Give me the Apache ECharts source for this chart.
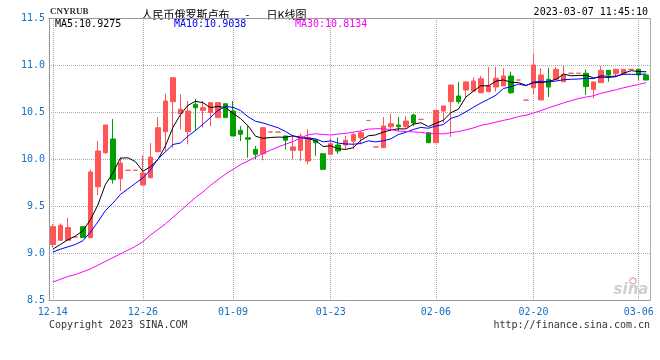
<!DOCTYPE html>
<html><head><meta charset="utf-8">
<script src="https://cdn.jsdelivr.net/npm/echarts@6/dist/echarts.min.js"></script>
<style>html,body{margin:0;padding:0;background:#fff}#c{width:660px;height:360px}</style>
</head><body><div id="c"></div>
<script>
const dates = ['12-14','12-15','12-16','12-17','12-18','12-19','12-20','12-21','12-22','12-23','12-24','12-25','12-26','12-27','12-28','12-29','12-30','12-31',
'01-03','01-04','01-05','01-06','01-07','01-08','01-09',
'01-10','01-11','01-12','01-13','01-14','01-15','01-16','01-17','01-18','01-19','01-20','01-21',
'01-23','01-24','01-25','01-26','01-27','01-28','01-29','01-30','01-31',
'02-01','02-02','02-03','02-04','02-05','02-06',
'02-07','02-08','02-09','02-10','02-11',
'02-13','02-14','02-15','02-16','02-17','02-18','02-19','02-20',
'02-21','02-22','02-23','02-24','02-25','02-26','02-27','02-28',
'03-01','03-02','03-03','03-04','03-05','03-06','03-07'];
const xTickDates = ['12-14','12-26','01-09','01-23','02-06','02-20','03-06'];
const opens = [9.09,9.135,9.135,9.17,9.28,9.163,9.705,10.067,10.213,9.79,
9.88,9.88,9.723,9.8,10.078,10.29,10.61,10.482,10.29,10.582,
10.518,10.493,10.44,10.588,10.51,10.305,10.227,10.103,10.056,10.287,
10.287,10.245,10.092,10.092,9.979,10.2,10.056,10.05,10.149,10.149,
10.19,10.227,10.41,10.128,10.12,10.343,10.362,10.343,10.468,10.422,
10.28,10.173,10.51,10.61,10.67,10.734,10.723,10.705,10.716,10.766,
10.777,10.883,10.84,10.626,10.758,10.628,10.848,10.848,10.822,10.912,
10.912,10.912,10.74,10.812,10.944,10.907,10.907,10.954,10.954,10.894];
const closes = [9.28,9.295,9.27,9.17,9.163,9.862,10.085,10.362,9.78,9.957,
9.88,9.88,9.85,10.02,10.333,10.617,10.865,10.53,10.51,10.546,
10.546,10.6,10.6,10.44,10.245,10.263,10.21,10.05,10.333,10.287,
10.287,10.2,10.128,10.245,10.227,10.173,9.89,10.163,10.085,10.199,
10.262,10.28,10.41,10.128,10.351,10.375,10.343,10.404,10.383,10.422,
10.173,10.518,10.564,10.787,10.61,10.82,10.83,10.854,10.777,10.859,
10.883,10.705,10.84,10.626,11.0,10.894,10.766,10.954,10.9,10.912,
10.912,10.77,10.82,10.944,10.894,10.954,10.954,10.954,10.894,10.84];
const lows = [9.06,9.13,9.13,9.17,9.163,9.16,9.614,10.056,9.737,9.66,
9.88,9.88,9.72,9.8,10.078,10.08,10.12,10.316,10.156,10.298,
10.333,10.35,10.44,10.44,10.245,10.19,10.014,9.997,9.986,10.287,
10.287,10.103,9.997,9.979,9.944,10.032,9.89,10.05,10.056,10.103,
10.103,10.156,10.41,10.128,10.12,10.298,10.298,10.333,10.351,10.422,
10.173,10.173,10.386,10.234,10.588,10.652,10.72,10.7,10.716,10.716,
10.777,10.69,10.84,10.626,10.69,10.628,10.66,10.848,10.82,10.912,
10.912,10.68,10.646,10.81,10.822,10.88,10.9,10.954,10.837,10.84];
const highs = [9.305,9.315,9.375,9.17,9.28,9.886,10.19,10.362,10.426,10.02,
9.88,9.88,10.04,10.17,10.447,10.695,10.865,10.688,10.617,10.641,
10.617,10.6,10.6,10.588,10.617,10.351,10.351,10.138,10.333,10.287,
10.287,10.245,10.245,10.27,10.316,10.21,10.056,10.227,10.227,10.245,
10.28,10.298,10.41,10.128,10.447,10.482,10.447,10.457,10.482,10.422,
10.28,10.518,10.564,10.787,10.82,10.82,10.87,10.883,10.979,10.979,
10.965,10.93,10.84,10.626,11.12,10.965,10.97,10.98,10.99,10.912,
10.912,10.954,10.82,10.99,10.944,10.96,10.954,10.954,10.954,10.894];
const ma5 = [9.04,9.09,9.14,9.18,9.236,9.352,9.51,9.728,9.85,10.009,
10.013,9.972,9.869,9.917,9.993,10.14,10.337,10.473,10.571,10.614,
10.599,10.546,10.56,10.546,10.486,10.43,10.352,10.242,10.22,10.229,
10.233,10.231,10.247,10.229,10.217,10.195,10.133,10.14,10.108,10.102,
10.12,10.198,10.247,10.256,10.286,10.309,10.321,10.32,10.371,10.385,
10.345,10.38,10.412,10.493,10.53,10.66,10.722,10.78,10.778,10.828,
10.841,10.816,10.813,10.783,10.811,10.813,10.825,10.848,10.903,10.885,
10.889,10.89,10.863,10.872,10.868,10.876,10.913,10.94,10.93,10.928];
const ma10 = [9.01,9.04,9.065,9.09,9.13,9.22,9.33,9.45,9.53,9.622,
9.682,9.741,9.799,9.884,10.001,10.076,10.154,10.171,10.244,10.303,
10.37,10.442,10.517,10.559,10.55,10.515,10.449,10.401,10.383,10.357,
10.332,10.292,10.244,10.225,10.223,10.214,10.182,10.193,10.169,10.16,
10.157,10.165,10.193,10.182,10.194,10.214,10.26,10.284,10.314,10.336,
10.327,10.351,10.366,10.432,10.458,10.502,10.551,10.596,10.636,10.679,
10.75,10.769,10.797,10.78,10.819,10.827,10.82,10.83,10.843,10.848,
10.851,10.857,10.855,10.887,10.877,10.883,10.901,10.901,10.901,10.904];
const ma30 = [8.69,8.72,8.75,8.77,8.80,8.83,8.87,8.91,8.95,8.99,
9.03,9.07,9.12,9.19,9.25,9.31,9.38,9.45,9.52,9.59,
9.65,9.72,9.78,9.84,9.89,9.94,9.98,10.02,10.06,10.094,
10.128,10.158,10.187,10.222,10.258,10.268,10.262,10.255,10.265,10.273,
10.286,10.299,10.318,10.322,10.322,10.314,10.297,10.293,10.288,10.284,
10.272,10.269,10.268,10.28,10.292,10.31,10.331,10.358,10.373,10.392,
10.411,10.428,10.452,10.465,10.49,10.515,10.544,10.57,10.597,10.621,
10.643,10.659,10.673,10.7,10.718,10.737,10.758,10.776,10.793,10.813];
const maLegend = ['MA5:10.9275','MA10:10.9038','MA30:10.8134'];
const maColors = ['#000000','#0000ff','#ff00ff'];

const UP = '#ff5555', DOWN = '#00a000', BLUE = '#1470c4', GRIDC = '#aaaaaa', AXC = '#999999';
const mono = '"DejaVu Sans Mono", monospace';
const ohlc = opens.map((o, i) => [o, closes[i], lows[i], highs[i]]);
const showTick = (i) => xTickDates.indexOf(dates[i]) >= 0;

const chart = echarts.init(document.getElementById('c'), null, {renderer: 'canvas'});
chart.setOption({
  animation: false,
  backgroundColor: '#fff',
  grid: {left: 49, right: 10, top: 18, bottom: 60, containLabel: false},
  xAxis: [{
    type: 'category', data: dates, boundaryGap: true, position: 'bottom',
    axisLine: {show: true, lineStyle: {color: AXC, width: 1}},
    axisTick: {show: false},
    axisLabel: {interval: (i) => showTick(i), color: BLUE, fontFamily: mono, fontSize: 10, margin: 7},
    splitLine: {show: true, interval: (i) => showTick(i), alignWithLabel: true, lineStyle: {color: GRIDC, type: 'dotted', width: 1}}
  }, {
    type: 'category', data: dates, boundaryGap: true, position: 'top',
    axisLine: {show: true, lineStyle: {color: AXC, width: 1}},
    axisTick: {show: false}, axisLabel: {show: false}, splitLine: {show: false}
  }],
  yAxis: [{
    type: 'value', min: 8.5, max: 11.5, interval: 0.5, position: 'left',
    axisLine: {show: true, lineStyle: {color: AXC, width: 1}},
    axisTick: {show: false},
    axisLabel: {formatter: (v) => v.toFixed(1), color: BLUE, fontFamily: mono, fontSize: 10, margin: 4},
    splitLine: {show: true, lineStyle: {color: GRIDC, type: 'dotted', width: 1}}
  }, {
    type: 'value', min: 8.5, max: 11.5, interval: 0.5, position: 'right',
    axisLine: {show: true, lineStyle: {color: AXC, width: 1, type: 'dotted'}},
    axisTick: {show: false}, axisLabel: {show: false}, splitLine: {show: false}
  }],
  series: [{
    type: 'candlestick', data: ohlc, barWidth: 5, z: 2,
    itemStyle: {color: UP, color0: DOWN, borderColor: UP, borderColor0: DOWN, borderColorDoji: UP, borderWidth: 1}
  }, {
    type: 'line', data: ma5, symbol: 'none', z: 3, lineStyle: {color: maColors[0], width: 1}
  }, {
    type: 'line', data: ma10, symbol: 'none', z: 3, lineStyle: {color: maColors[1], width: 1}
  }, {
    type: 'line', data: ma30, symbol: 'none', z: 3, lineStyle: {color: maColors[2], width: 1}
  }],
  graphic: [
    {type: 'text', x: 50, y: 12, style: {text: 'CNYRUB', fill: '#333', font: 'bold 9px "Liberation Serif", serif', align: 'left', verticalAlign: 'middle'}},
    {type: 'text', x: 141.5, y: 15, style: {text: '人民币俄罗斯卢布', fill: '#000', font: '11px "Noto Sans CJK SC"', align: 'left', verticalAlign: 'middle'}},
    {type: 'text', x: 247.5, y: 15, style: {text: '-', fill: '#000', font: '11px "Noto Sans CJK SC"', align: 'center', verticalAlign: 'middle'}},
    {type: 'text', x: 266.5, y: 15, style: {text: '日K线图', fill: '#000', font: '11px "Noto Sans CJK SC"', align: 'left', verticalAlign: 'middle'}},
    {type: 'text', x: 648, y: 12, style: {text: '2023-03-07 11:45:10', fill: '#000', font: '10px ' + mono, align: 'right', verticalAlign: 'middle'}},
    {type: 'text', x: 55, y: 24, z: 10, style: {text: maLegend[0], fill: maColors[0], font: '10px ' + mono, align: 'left', verticalAlign: 'middle'}},
    {type: 'text', x: 174, y: 24, z: 10, style: {text: maLegend[1], fill: maColors[1], font: '10px ' + mono, align: 'left', verticalAlign: 'middle'}},
    {type: 'text', x: 295, y: 24, z: 10, style: {text: maLegend[2], fill: maColors[2], font: '10px ' + mono, align: 'left', verticalAlign: 'middle'}},
    {type: 'text', x: 49, y: 325, style: {text: 'Copyright 2023 SINA.COM', fill: '#333', font: '10px ' + mono, align: 'left', verticalAlign: 'middle'}},
    {type: 'text', x: 650, y: 325, style: {text: 'http://finance.sina.com.cn', fill: '#333', font: '10px ' + mono, align: 'right', verticalAlign: 'middle'}},
    {type: 'text', x: 631, y: 290, style: {text: 'sina', fill: '#cfcfcf', font: 'italic bold 15px "DejaVu Sans", sans-serif', align: 'center', verticalAlign: 'middle'}},
    {type: 'circle', shape: {cx: 633, cy: 281, r: 3}, style: {fill: 'none', stroke: '#e7b5b5', lineWidth: 1.5}}
  ]
});
</script></body></html>
